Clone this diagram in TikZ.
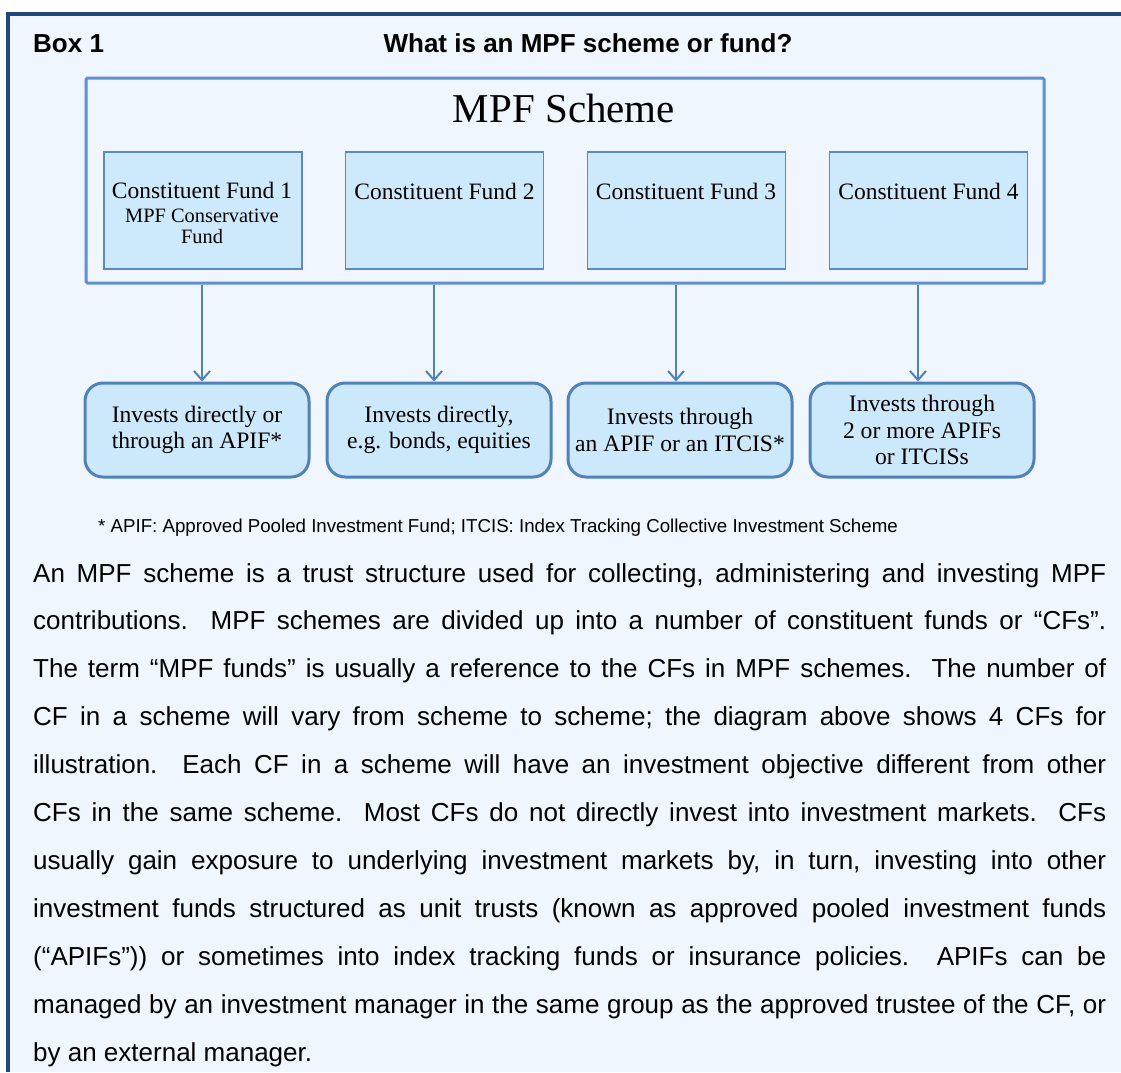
\documentclass[tikz,border=0pt]{standalone}
\usepackage{fontspec}
\setmainfont{Liberation Serif}
\newfontfamily\arialf{Liberation Sans}
\usetikzlibrary{arrows.meta}
\definecolor{bgc}{HTML}{EFF6FE}
\definecolor{framec}{HTML}{1F497D}
\definecolor{schemec}{HTML}{5B8FD6}
\definecolor{cfline}{HTML}{5A88C8}
\definecolor{cffill}{HTML}{CCEAFC}
\definecolor{invline}{HTML}{4F81BD}
\definecolor{invfill}{HTML}{CCE8FB}
\begin{document}
\begin{tikzpicture}[x=1pt,y=-1pt,
  schemebox/.style={draw=schemec, line width=3pt, fill=bgc, minimum width=958pt, minimum height=205pt, inner sep=0pt, rounded corners=1.5pt},
  cfbox/.style={draw=cfline, line width=1.6pt, fill=cffill, minimum width=198pt, minimum height=117pt, inner sep=0pt},
  cftext/.style={anchor=base, inner sep=0pt, font=\fontsize{23.5}{27}\selectfont},
  cfsub/.style={anchor=base, inner sep=0pt, font=\fontsize{20.4}{22}\selectfont},
  invbox/.style={draw=invline, line width=3pt, fill=invfill, rounded corners=18pt, minimum width=224pt, minimum height=94pt, inner sep=0pt, align=center, font=\fontsize{23.6}{26.5}\selectfont},
  arr/.style={draw=invline, line width=2pt, -{Straight Barb[length=9pt,width=16pt,line width=2pt]}},
  sanstitle/.style={inner sep=0pt, font=\arialf\bfseries\fontsize{26}{30}\selectfont}
]
\useasboundingbox (0,0) rectangle (1121,1072);
\fill[bgc] (8,14) rectangle (1121,1072);
\draw[framec, line width=4pt] (8,1072) -- (8,14) -- (1121,14);

\node[sanstitle, anchor=base west] (boxlabel) at (33,52) {Box 1};
\node[sanstitle, anchor=base] (boxtitle) at (588,52) {What is an MPF scheme or fund?};

\node[schemebox] (scheme) at (565,180.5) {};
\node[anchor=base, inner sep=0pt, font=\fontsize{41}{45}\selectfont] (schemetitle) at (564,122) {MPF Scheme};

\node[cfbox] (cf1) at (203,210.5) {};
\node[cfbox] (cf2) at (444.5,210.5) {};
\node[cfbox] (cf3) at (686.5,210.5) {};
\node[cfbox] (cf4) at (928.5,210.5) {};
\node[cftext] (cf1t) at (202,198) {Constituent Fund 1};
\node[cfsub] (cf1s) at (202,222) {MPF Conservative};
\node[cfsub] (cf1u) at (202,243.5) {Fund};
\node[cftext] (cf2t) at (444.5,199) {Constituent Fund 2};
\node[cftext] (cf3t) at (686,199) {Constituent Fund 3};
\node[cftext] (cf4t) at (928.5,199) {Constituent Fund 4};

\node[invbox] (b1) at (197,430) {Invests directly or\\through an APIF*};
\node[invbox] (b2) at (439,430) {Invests directly,\\e.g. bonds, equities};
\node[invbox] (b3) at (680,430) {Invests through\\an APIF or an ITCIS*};
\node[invbox] (b4) at (922,430) {Invests through\\2 or more APIFs\\or ITCISs};

\coordinate (ax1) at (202,0);
\coordinate (ax2) at (434,0);
\coordinate (ax3) at (676,0);
\coordinate (ax4) at (918,0);
\draw[arr] (scheme.south -| ax1) -- (b1.north -| ax1);
\draw[arr] (scheme.south -| ax2) -- (b2.north -| ax2);
\draw[arr] (scheme.south -| ax3) -- (b3.north -| ax3);
\draw[arr] (scheme.south -| ax4) -- (b4.north -| ax4);

\node[anchor=base west, inner sep=0pt, font=\arialf\fontsize{18.7}{22}\selectfont] (foot) at (98,532) {* APIF: Approved Pooled Investment Fund; ITCIS: Index Tracking Collective Investment Scheme};

\node[anchor=base west, inner sep=0pt, text width=1073pt, align=justify, font=\arialf\fontsize{26}{47.9}\selectfont\frenchspacing] (body) at (33,582) {An MPF scheme is a trust structure used for collecting, administering and investing MPF\linebreak
contributions. \ MPF schemes are divided up into a number of constituent funds or “CFs”.\linebreak
The term “MPF funds” is usually a reference to the CFs in MPF schemes. \ The number of\linebreak
CF in a scheme will vary from scheme to scheme; the diagram above shows 4 CFs for\linebreak
illustration. \ Each CF in a scheme will have an investment objective different from other\linebreak
CFs in the same scheme. \ Most CFs do not directly invest into investment markets. \ CFs\linebreak
usually gain exposure to underlying investment markets by, in turn, investing into other\linebreak
investment funds structured as unit trusts (known as approved pooled investment funds\linebreak
(“APIFs”)) or sometimes into index tracking funds or insurance policies. \ APIFs can be\linebreak
managed by an investment manager in the same group as the approved trustee of the CF, or\linebreak
by an external manager.};
\end{tikzpicture}
\end{document}
